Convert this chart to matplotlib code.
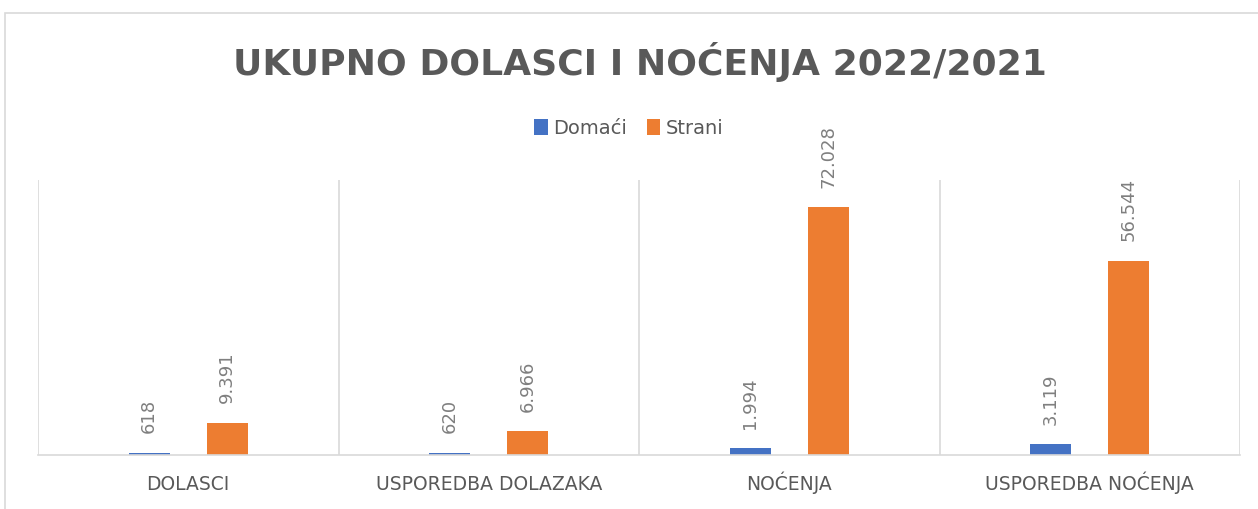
import numpy as np
import matplotlib
matplotlib.use("Agg")
import matplotlib.pyplot as plt
from matplotlib.patches import Rectangle

categories = ['DOLASCI', 'USPOREDBA DOLAZAKA', 'NOĆENJA', 'USPOREDBA NOĆENJA']
domaci = [618, 620, 1994, 3119]
strani = [9391, 6966, 72028, 56544]
series_names = ['Domaći', 'Strani']
title = 'UKUPNO DOLASCI I NOĆENJA 2022/2021'

c_blue, c_orange = '#4472C4', '#ED7D31'
txt_gray = '#595959'
lbl_gray = '#7f7f7f'
grid_gray = '#d9d9d9'

def fmt(v):
    return f"{v:,}".replace(',', '.')

fig = plt.figure(figsize=(12.58, 5.09), dpi=100)

# outer chart border
fig.patches.append(Rectangle((5/1258, -0.01), 1.0, 1 - 13/509 + 0.01,
                             transform=fig.transFigure, fill=False,
                             edgecolor=grid_gray, lw=1.2))

ax = fig.add_axes([38/1258, 54/509, 1202/1258, 275/509])
x = np.arange(len(categories))
off, w = 0.13, 0.137
b1 = ax.bar(x - off, domaci, w, color=c_blue, label=series_names[0])
b2 = ax.bar(x + off, strani, w, color=c_orange, label=series_names[1])

ax.set_xlim(-0.5, len(categories) - 0.5)
ax.set_ylim(0, 80000)
for xv in np.arange(-0.5, len(categories), 1.0):
    ax.axvline(xv, color=grid_gray, lw=1.2, zorder=0)
for s in ['top', 'right', 'left']:
    ax.spines[s].set_visible(False)
ax.spines['bottom'].set_color(grid_gray)
ax.spines['bottom'].set_linewidth(1.2)
ax.set_yticks([])
ax.set_xticks(x)
ax.set_xticklabels(categories, fontsize=13.5, color=txt_gray, va='baseline')
ax.tick_params(axis='x', length=0, pad=25)

for bars, vals in [(b1, domaci), (b2, strani)]:
    for b, v in zip(bars, vals):
        ax.annotate(fmt(v), (b.get_x() + b.get_width() / 2, v),
                    xytext=(0, 14), textcoords='offset points',
                    rotation=90, ha='center', va='bottom',
                    fontsize=13, color=lbl_gray)

fig.text(0.509, 1 - 62/509, title, ha='center', va='center',
         fontsize=26, fontweight='bold', color=txt_gray)

ax.legend(loc='center', bbox_to_anchor=(629/1258, 1 - 128/509),
          bbox_transform=fig.transFigure, ncol=2, frameon=False,
          fontsize=14, labelcolor=txt_gray, handlelength=0.7,
          handleheight=0.9, handletextpad=0.3, columnspacing=1.0)

fig.savefig('out.png', dpi=100)
